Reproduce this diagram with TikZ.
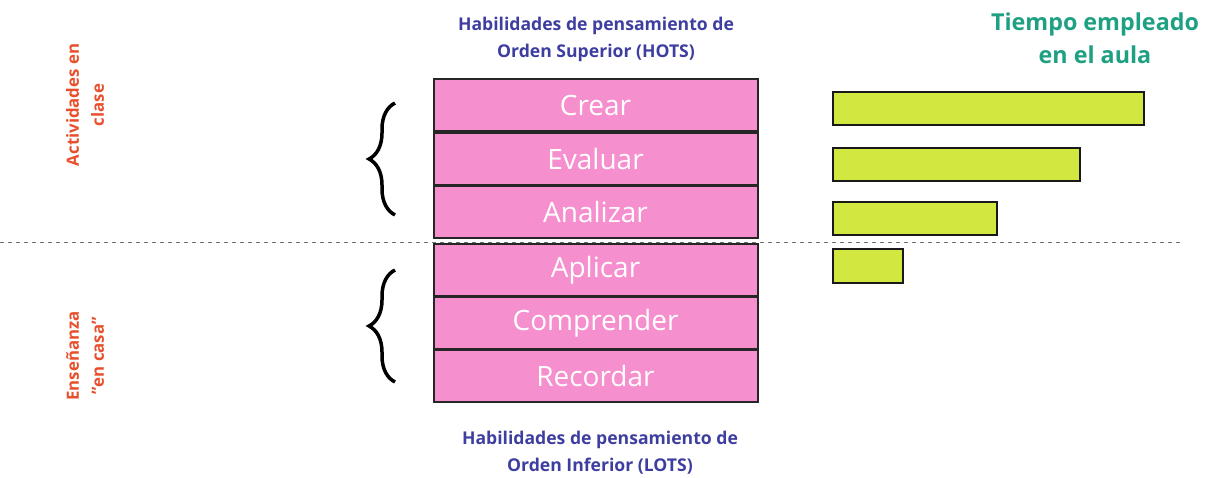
\documentclass[tikz,border=0pt]{standalone}
\usepackage{fontspec}
\setmainfont{Open Sans}
\usetikzlibrary{decorations.pathreplacing}
\definecolor{pinkbox}{RGB}{245,143,205}
\definecolor{limebar}{RGB}{210,232,65}
\definecolor{titleblue}{RGB}{62,62,160}
\definecolor{timegreen}{RGB}{30,160,130}
\definecolor{sidered}{RGB}{232,80,45}
\tikzset{
  level/.style={draw=black!85, line width=2pt, fill=pinkbox, minimum width=324pt, minimum height=52pt, inner sep=0pt, text=white, font=\fontsize{28}{30}\selectfont},
  bar/.style={draw=black!90, line width=2pt, fill=limebar},
  hotslabel/.style={text=titleblue, font=\bfseries\fontsize{17.6}{27}\selectfont, align=center},
  sidelabel/.style={text=sidered, font=\bfseries\fontsize{16.8}{25}\selectfont, align=center, rotate=90},
  timelabel/.style={text=timegreen, font=\bfseries\fontsize{23.3}{33}\selectfont, align=center},
  bracestyle/.style={line width=3.5pt, decorate, decoration={brace, amplitude=26pt}},
  divider/.style={draw=black!55, line width=1pt, dash pattern=on 4pt off 4pt}
}
\begin{document}
\begin{tikzpicture}[x=1pt, y=-1pt]
\useasboundingbox (0,0) rectangle (1205,477);
% divider
\coordinate (dl) at (0,242);
\coordinate (dr) at (1180,242);
\draw[divider] (dl) -- (dr);
% levels
\node[level] (crear) at (595.5,105) {Crear};
\node[level] (evaluar) at (595.5,159) {Evaluar};
\node[level] (analizar) at (595.5,212) {Analizar};
\node[level] (aplicar) at (595.5,270) {Aplicar};
\node[level] (comprender) at (595.5,323) {Comprender};
\node[level] (recordar) at (595.5,376) {Recordar};
% titles
\node[hotslabel] (hots) at (596,39) {Habilidades de pensamiento de\\Orden Superior (HOTS)};
\node[hotslabel] (lots) at (600,453) {Habilidades de pensamiento de\\Orden Inferior (LOTS)};
\node[timelabel] (tiempo) at (1095,38) {Tiempo empleado\\en el aula};
% side labels
\node[sidelabel] (clase) at (85,105) {Actividades en\\clase};
\node[sidelabel] (casa) at (85,356) {Enseñanza\\\symbol{34}en casa\symbol{34}};
% braces
\coordinate (b1a) at (395,215);
\coordinate (b1b) at (395,103);
\coordinate (b2a) at (395,382);
\coordinate (b2b) at (395,270);
\draw[bracestyle] (b1a) -- (b1b);
\draw[bracestyle] (b2a) -- (b2b);
% bars
\draw[bar] (833,92) rectangle (1144,125);
\draw[bar] (833,148) rectangle (1080,181);
\draw[bar] (833,202) rectangle (997,235);
\draw[bar] (833,249) rectangle (903,283);
\end{tikzpicture}
\end{document}
